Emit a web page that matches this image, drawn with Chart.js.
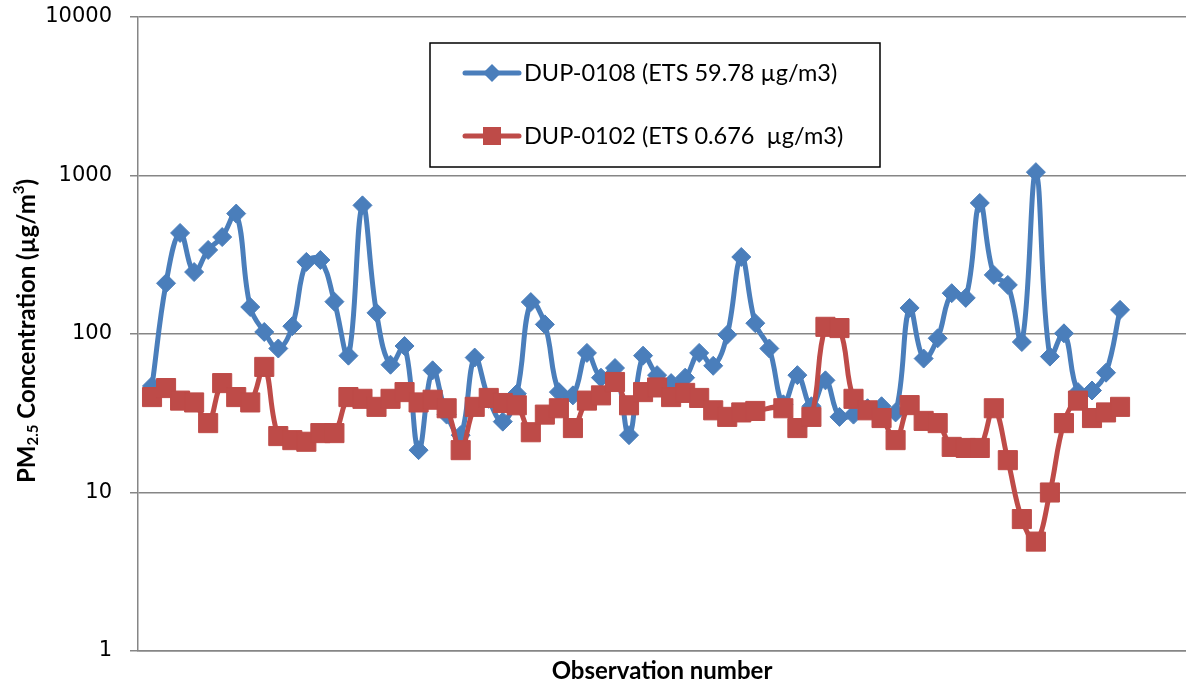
<!DOCTYPE html>
<html><head><meta charset="utf-8">
<script src="https://cdn.jsdelivr.net/npm/chart.js@4/dist/chart.umd.min.js"></script>
<style>html,body{margin:0;padding:0;background:#fff;overflow:hidden;}#wrap{width:1186px;height:690px;}canvas{display:block;}</style>
</head><body><div id="wrap"><canvas id="c" width="1186" height="690"></canvas></div>
<script>
const observations = [1,2,3,4,5,6,7,8,9,10,11,12,13,14,15,16,17,18,19,20,21,22,23,24,25,26,27,28,29,30,31,32,33,34,35,36,37,38,39,40,41,42,43,44,45,46,47,48,49,50,51,52,53,54,55,56,57,58,59,60,61,62,63,64,65,66,67,68,69,70];
const dup0108 = [47,209,434,246,339,409,575,148,103,81,112,285,293,160,73,648,136,64,84,18.5,59,31,23,71,39,28,42,159,115,43,41,76,53,61,23,73,55,49,53,76,63,99,306,117,81,36,55,35,51,30,31,34,35,32,146,70,94,181,169,671,236,204,89,1050,72,101,43,44,57,142];
const dup0102 = [40,45.6,38,37,27.4,49,40,37,62,22.7,21.4,20.9,23.7,23.7,40,39,34.7,39,43,37,38.5,34,18.5,34.7,39.5,36.7,35.5,24,31,34,25.5,38,41,49.8,35.5,43,46,40,42.5,39.5,33,30,32,32.7,null,34,25.5,30,111,109,39,33,29.5,21.4,35.6,28.3,27.4,19.4,19.1,19.1,34,16,6.8,4.9,10,27.4,38,29.5,32,34.7];
const yTicks = [1,10,100,1000,10000];
const seriesLabels = ['DUP-0108 (ETS 59.78 µg/m3)', 'DUP-0102 (ETS 0.676  µg/m3)'];
const xTitle = 'Observation number';
const yTitleParts = [['PM','n'],['2.5','sub'],[' Concentration (µg/m','n'],['3','sup'],[')','n']];

const BLUE = '#4A7EBB', RED = '#BE4B48', GRID = '#868686';

function toXY(arr){ return arr.map((v,i)=>({x:observations[i], y:v})); }

const legendBox = {
  id:'legendBox',
  afterDraw(chart){
    const c = chart.ctx;
    c.save();
    c.fillStyle='#fff'; c.fillRect(430,43,450,124);
    c.strokeStyle='#000'; c.lineWidth=1.5; c.strokeRect(430,43,450,124);
    const ys=[73,136];
    chart.data.datasets.forEach((ds,i)=>{
      const y=ys[i];
      c.strokeStyle=ds.borderColor; c.lineWidth=5; c.lineCap='round';
      c.beginPath(); c.moveTo(465,y); c.lineTo(519,y); c.stroke();
      c.fillStyle=ds.pointBackgroundColor;
      c.beginPath();
      if(ds.pointStyle==='rectRot'){ c.moveTo(483,y); c.lineTo(492,y-9); c.lineTo(501,y); c.lineTo(492,y+9); c.closePath(); }
      else { c.rect(483,y-9,18,18); }
      c.fill();
      c.fillStyle='#000'; c.font='23.5px Lato'; c.textBaseline='middle'; c.textAlign='left';
      c.fillText(ds.label,524,y);
    });
    c.restore();
  }
};

const yTitle = {
  id:'yTitle',
  afterDraw(chart){
    const c = chart.ctx;
    c.save();
    c.translate(27,331); c.rotate(-Math.PI/2);
    c.fillStyle='#000'; c.textBaseline='middle'; c.textAlign='left';
    const fontFor = k => 'bold '+(k==='n'?24:15)+'px Lato';
    let total=0;
    yTitleParts.forEach(([t,k])=>{ c.font=fontFor(k); total+=c.measureText(t).width; });
    let x=-total/2;
    yTitleParts.forEach(([t,k])=>{
      c.font=fontFor(k);
      const dy = k==='sub'?6:(k==='sup'?-8:0);
      c.fillText(t,x,dy); x+=c.measureText(t).width;
    });
    c.restore();
  }
};

function zeroPad(s){ s.paddingLeft=0; s.paddingRight=0; s.paddingTop=0; s.paddingBottom=0; }

new Chart(document.getElementById('c'), {
  type:'line',
  data:{datasets:[
    {label:seriesLabels[0], data:toXY(dup0108), borderColor:BLUE, backgroundColor:BLUE,
     borderWidth:5, tension:0.4, pointStyle:'rectRot', pointRadius:9.5, pointBorderWidth:1,
     pointBackgroundColor:BLUE, pointBorderColor:BLUE, order:1},
    {label:seriesLabels[1], data:toXY(dup0102), borderColor:RED, backgroundColor:RED,
     borderWidth:5, tension:0.4, pointStyle:'rect', pointRadius:13.5, pointBorderWidth:1,
     pointBackgroundColor:RED, pointBorderColor:RED, spanGaps:true, order:0,
     segment:{borderWidth: s => (s.p1DataIndex - s.p0DataIndex > 1 ? 2 : undefined)}}
  ]},
  options:{
    responsive:false, animation:false, events:[],
    layout:{autoPadding:false, padding:{top:17,right:0,left:0,bottom:0}},
    plugins:{legend:{display:false}, tooltip:{enabled:false}},
    scales:{
      x:{type:'linear', min:0, max:74.7, ticks:{display:false}, grid:{display:false},
         border:{display:true,color:GRID,width:1.5},
         title:{display:true, text:xTitle, color:'#000', font:{family:'Lato',weight:'bold',size:24}, padding:{top:0,bottom:4}},
         afterFit(s){ s.height=39; zeroPad(s); }},
      y:{type:'logarithmic', min:1, max:10000,
         afterBuildTicks(s){ s.ticks = yTicks.map(v=>({value:v})); },
         ticks:{callback:v=>String(v), color:'#000', font:{family:'DejaVu Sans',size:21}, padding:18},
         grid:{color:GRID, lineWidth:1.5, tickLength:8, drawTicks:true, tickColor:GRID},
         border:{display:true,color:GRID,width:1.5},
         afterFit(s){ s.width=138; zeroPad(s); }}
    }
  },
  plugins:[legendBox, yTitle]
});
</script></body></html>
